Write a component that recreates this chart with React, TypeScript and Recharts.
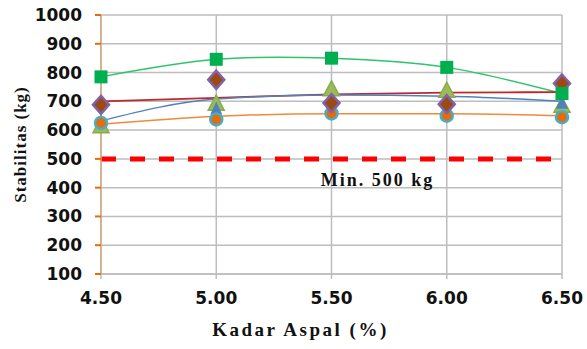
import React from 'react';
import { ComposedChart, Line, XAxis, YAxis, CartesianGrid, ReferenceLine, Label } from 'recharts';

const kadarAspal = [4.5, 5.0, 5.5, 6.0, 6.5];
const greenSquares = [785, 846, 850, 818, 727];
const diamonds = [688, 775, 694, 690, 762];
const oliveTriangles = [612, 690, 740, 735, 683];
const blueTriangles = [628, 672, 700, 700, 692];
const orangeCircles = [625, 637, 658, 650, 645];
const redTrend = [700, 712, 724, 730, 732];
const blueTrend = [632, 708, 722, 718, 700];
const orangeTrend = [620, 648, 657, 657, 650];
const minStability = 500;
const xTicks = [4.5, 5.0, 5.5, 6.0, 6.5];
const yTicks = [100, 200, 300, 400, 500, 600, 700, 800, 900, 1000];

const data = kadarAspal.map((x, i) => ({
  x,
  sq: greenSquares[i],
  dia: diamonds[i],
  olive: oliveTriangles[i],
  blue: blueTriangles[i],
  orange: orangeCircles[i],
  redT: redTrend[i],
  blueT: blueTrend[i],
  orangeT: orangeTrend[i],
}));

const Square = (p: any) => (
  <rect key={p.key ?? `sq${p.index}`} x={p.cx - 6.5} y={p.cy - 6.5} width={13} height={13} fill="#00b050" />
);
const Diamond = (p: any) => (
  <polygon
    key={p.key ?? `d${p.index}`}
    points={`${p.cx},${p.cy - 9} ${p.cx + 8},${p.cy} ${p.cx},${p.cy + 9} ${p.cx - 8},${p.cy}`}
    fill="#9c4a12"
    stroke="#7f62a8"
    strokeWidth={2.5}
  />
);
const OliveTri = (p: any) => (
  <polygon
    key={p.key ?? `o${p.index}`}
    points={`${p.cx},${p.cy - 9} ${p.cx + 8},${p.cy + 6} ${p.cx - 8},${p.cy + 6}`}
    fill="#9bbb59"
    stroke="#8aab4a"
    strokeWidth={1.5}
  />
);
const BlueTri = (p: any) => (
  <polygon
    key={p.key ?? `b${p.index}`}
    points={`${p.cx},${p.cy - 8} ${p.cx + 6},${p.cy + 5} ${p.cx - 6},${p.cy + 5}`}
    fill="#4f81bd"
  />
);
const OrangeCircle = (p: any) => (
  <circle key={p.key ?? `c${p.index}`} cx={p.cx} cy={p.cy} r={6} fill="#e46c0a" stroke="#4bacc6" strokeWidth={2.5} />
);

const MinLabel = (props: any) => {
  const vb = props.viewBox || {};
  return (
    <text
      x={vb.x + vb.width * 0.6}
      y={vb.y + 27}
      textAnchor="middle"
      fontFamily="Liberation Serif"
      fontWeight="bold"
      fontSize={18}
      letterSpacing={2}
      fill="#111"
    >
      Min. 500 kg
    </text>
  );
};

const XTitle = (props: any) => {
  const vb = props.viewBox || {};
  return (
    <text
      x={vb.x + vb.width * 0.5 - 31}
      y={332}
      textAnchor="middle"
      dominantBaseline="middle"
      fontFamily="Liberation Serif"
      fontWeight="bold"
      fontSize={19}
      letterSpacing={2.5}
      fill="#111"
    >
      Kadar Aspal (%)
    </text>
  );
};

export default function App() {
  return (
    <div style={{ position: 'absolute', left: 0, top: 0, background: '#fff' }}>
      <ComposedChart width={587} height={349} data={data} margin={{ top: 15, right: 25, left: 0, bottom: 0 }}>
        <CartesianGrid stroke="#bdbdbd" strokeWidth={1.5} />
        <XAxis
          dataKey="x"
          type="number"
          domain={[4.5, 6.5]}
          ticks={xTicks}
          tickFormatter={(v: number) => v.toFixed(2)}
          height={75}
          stroke="#bdbdbd"
          strokeWidth={1.5}
          tickSize={5}
          tickMargin={13}
          tick={{ fill: '#111', fontSize: 17, fontFamily: 'DejaVu Sans', fontWeight: 'bold' }}
        >
          <Label content={<XTitle />} />
        </XAxis>
        <YAxis
          type="number"
          domain={[100, 1000]}
          ticks={yTicks}
          width={101}
          axisLine={{ stroke: '#dba77c', strokeWidth: 1.5 }}
          tickLine={{ stroke: '#e46c0a', strokeWidth: 2 }}
          tickSize={6}
          tickMargin={13}
          tick={{ fill: '#111', fontSize: 17, fontFamily: 'DejaVu Sans', fontWeight: 'bold' }}
        >
          <Label
            value="Stabilitas (kg)"
            angle={-90}
            position="insideLeft"
            offset={20}
            style={{ textAnchor: 'middle', fontFamily: 'Liberation Serif', fontWeight: 'bold', fontSize: 17, letterSpacing: 1, fill: '#111' }}
          />
        </YAxis>
        <ReferenceLine
          y={minStability}
          stroke="#ff0000"
          strokeWidth={5}
          strokeDasharray="15 14"
          label={<MinLabel />}
        />
        <Line dataKey="sq" type="natural" stroke="#2ec46a" strokeWidth={1.5} dot={false} isAnimationActive={false} />
        <Line dataKey="redT" type="monotone" stroke="#c0282d" strokeWidth={1.8} dot={false} isAnimationActive={false} />
        <Line dataKey="blueT" type="monotone" stroke="#4f81bd" strokeWidth={1.5} dot={false} isAnimationActive={false} />
        <Line dataKey="orangeT" type="monotone" stroke="#f08a3c" strokeWidth={1.5} dot={false} isAnimationActive={false} />
        <Line dataKey="olive" stroke="none" dot={OliveTri} activeDot={false} isAnimationActive={false} />
        <Line dataKey="blue" stroke="none" dot={BlueTri} activeDot={false} isAnimationActive={false} />
        <Line dataKey="orange" stroke="none" dot={OrangeCircle} activeDot={false} isAnimationActive={false} />
        <Line dataKey="dia" stroke="none" dot={Diamond} activeDot={false} isAnimationActive={false} />
        <Line dataKey="sq" stroke="none" dot={Square} activeDot={false} isAnimationActive={false} />
      </ComposedChart>
    </div>
  );
}
